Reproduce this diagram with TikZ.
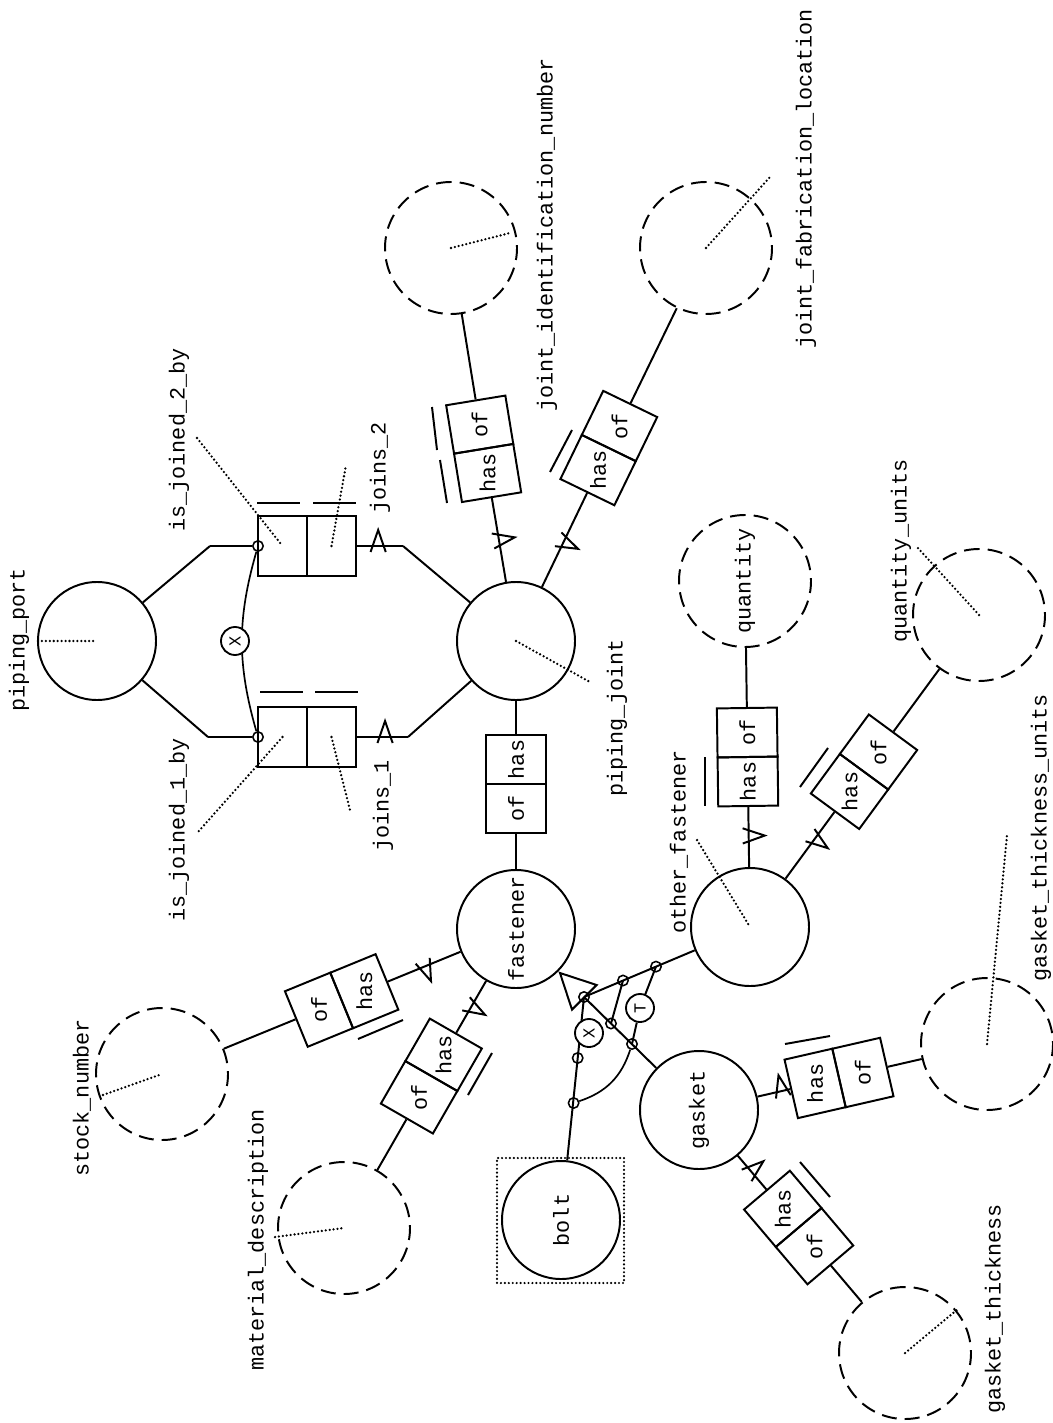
\documentclass[tikz,border=0pt]{standalone}
\usepackage{fontspec}
\newfontfamily\niamfont{Liberation Mono}
\newcommand{\niamtext}{\niamfont\fontsize{15.5}{18}\selectfont}
\newcommand{\niamsmall}{\niamfont\fontsize{12}{13}\selectfont}
\usetikzlibrary{arrows.meta,decorations.markings}
\pgfdeclarelayer{edgelayer}
\pgfdeclarelayer{nodelayer}
\pgfsetlayers{edgelayer,nodelayer,main}
\tikzstyle{none}=[]
\tikzstyle{Entity}=[draw=black, shape=circle, minimum size=29.5mm, inner sep=0pt, rotate=90, font=\niamtext]
\tikzstyle{Value}=[draw=black, shape=circle, minimum size=33mm, inner sep=0pt, dash pattern=on 3.75mm off 2mm, rotate=90, font=\niamtext]
\tikzstyle{Role}=[draw=black, shape=rectangle, minimum width=12.25mm, minimum height=15mm, inner sep=0pt]
\tikzstyle{Role Text}=[inner sep=0pt, rotate=90, font=\niamtext]
\tikzstyle{Label}=[inner sep=0pt, rotate=90, font=\niamtext]
\tikzstyle{Joint}=[draw=black, shape=circle, minimum size=2.6mm, inner sep=0pt, line width=1.1pt]
\tikzstyle{Constraint}=[draw=black, fill=white, shape=circle, minimum size=7mm, inner sep=0pt, line width=1.3pt, rotate=90, font=\niamsmall]
\tikzstyle{Bolt Box}=[draw=black, shape=rectangle, minimum width=31.75mm, minimum height=31.25mm, inner sep=0pt, line width=1.7pt, dash pattern=on 0pt off 2.8pt, line cap=round]
\tikzstyle{Pointer}=[-, draw=black, line width=1.8pt, dash pattern=on 0pt off 2.8pt, line cap=round]
\tikzstyle{Bar}=[-, draw=black]
\tikzstyle{Thin}=[-, draw=black, line width=1.2pt]
\tikzstyle{Subtype}=[-{Triangle[open, length=9.4mm, width=9.4mm]}, draw=black]
\tikzset{wedge left/.style={postaction={decorate, decoration={markings, mark=at position #1 with {\draw [solid] (-1.9mm,-1.5mm) -- (0,4mm) -- (1.9mm,-1.5mm);}}}}}
\tikzset{wedge right/.style={postaction={decorate, decoration={markings, mark=at position #1 with {\draw [solid] (-1.9mm,1.5mm) -- (0,-4mm) -- (1.9mm,1.5mm);}}}}}
\begin{document}
\begin{tikzpicture}[x=0.25mm, y=-0.25mm, every path/.style={line width=1.4pt}]
	\useasboundingbox (0,0) rectangle (1053,1423);
	\begin{pgfonlayer}{nodelayer}
		\node [style=Entity] (0) at (97, 641) {};
		\node [style=Entity] (1) at (516, 641) {};
		\node [style=Entity] (2) at (516, 929) {fastener};
		\node [style=Entity] (3) at (750, 927) {};
		\node [style=Entity] (4) at (699, 1110) {gasket};
		\node [style=Entity] (5) at (561, 1220) {bolt};
		\node [style=Value] (6) at (451, 248) {};
		\node [style=Value] (7) at (706, 248) {};
		\node [style=Value] (8) at (745, 581) {quantity};
		\node [style=Value] (9) at (979, 615) {};
		\node [style=Value] (10) at (987, 1044) {};
		\node [style=Value] (11) at (905, 1353) {};
		\node [style=Value] (12) at (162, 1074) {};
		\node [style=Value] (13) at (344, 1228) {};
		\node [style=Role, rotate=90] (14) at (516, 759.5) {};
		\node [style=Role, rotate=90] (15) at (516, 808.5) {};
		\node [style=Role, rotate=99.3] (16) at (487.6, 473) {};
		\node [style=Role, rotate=99.3] (17) at (479.7, 424.6) {};
		\node [style=Role, rotate=64.1] (18) at (598.1, 470.1) {};
		\node [style=Role, rotate=64.1] (19) at (619.5, 426) {};
		\node [style=Role, rotate=90.8] (20) at (747.9, 781.5) {};
		\node [style=Role, rotate=90.8] (21) at (747.2, 732.5) {};
		\node [style=Role, rotate=53.7] (22) at (849.5, 791.5) {};
		\node [style=Role, rotate=53.7] (23) at (878.5, 752) {};
		\node [style=Role, rotate=22.3] (24) at (364.3, 991.2) {};
		\node [style=Role, rotate=22.3] (25) at (319, 1009.7) {};
		\node [style=Role, rotate=60.1] (26) at (443.6, 1054.8) {};
		\node [style=Role, rotate=60.1] (27) at (419.1, 1097.3) {};
		\node [style=Role, rotate=12.9] (28) at (815.1, 1083.4) {};
		\node [style=Role, rotate=12.9] (29) at (862.9, 1072.5) {};
		\node [style=Role, rotate=-49.7] (30) at (782.8, 1208.8) {};
		\node [style=Role, rotate=-49.7] (31) at (814.5, 1246.2) {};
		\node [style=Role] (32) at (282.5, 546) {};
		\node [style=Role] (33) at (331.5, 546) {};
		\node [style=Role] (34) at (282.5, 737) {};
		\node [style=Role] (35) at (331.5, 737) {};
		\node [style=Joint] (36) at (258, 546) {};
		\node [style=Joint] (37) at (258, 737) {};
		\node [style=Joint] (38) at (584, 997) {};
		\node [style=Joint] (39) at (623, 980.5) {};
		\node [style=Joint] (40) at (656, 966.6) {};
		\node [style=Joint] (41) at (611, 1023.5) {};
		\node [style=Joint] (42) at (632, 1044) {};
		\node [style=Joint] (43) at (577.7, 1058) {};
		\node [style=Joint] (44) at (573.6, 1103) {};
		\node [style=Constraint] (45) at (235, 641) {X};
		\node [style=Constraint] (46) at (589, 1033) {X};
		\node [style=Constraint] (47) at (640, 1008) {T};
		\node [style=none] (48) at (210, 546) {};
		\node [style=none] (49) at (403, 546) {};
		\node [style=none] (50) at (208, 737) {};
		\node [style=none] (51) at (408, 737) {};
		\node [style=Label] (52) at (19, 640) {piping\_port};
		\node [style=Label] (53) at (179, 440) {is\_joined\_2\_by};
		\node [style=Label] (54) at (179, 830) {is\_joined\_1\_by};
		\node [style=Label] (55) at (380, 468) {joins\_2};
		\node [style=Label] (56) at (383, 806) {joins\_1};
		\node [style=Label] (57) at (617, 718) {piping\_joint};
		\node [style=Label] (58) at (679, 842) {other\_fastener};
		\node [style=Label] (59) at (901, 551) {quantity\_units};
		\node [style=Label] (60) at (1041, 838) {gasket\_thickness\_units};
		\node [style=Label] (61) at (995, 1309) {gasket\_thickness};
		\node [style=Label] (62) at (258, 1240) {material\_description};
		\node [style=Label] (63) at (82, 1098) {stock\_number};
		\node [style=Label] (64) at (547, 235) {joint\_identification\_number};
		\node [style=Label] (65) at (806, 179) {joint\_fabrication\_location};
		\node [style=none] (66) at (38, 641) {};
		\node [style=none] (67) at (590, 682) {};
		\node [style=none] (68) at (197, 438) {};
		\node [style=none] (70) at (346, 465) {};
		\node [style=none] (71) at (198, 832) {};
		\node [style=none] (72) at (350, 810) {};
		\node [style=none] (73) at (697, 840) {};
		\node [style=none] (74) at (510, 233) {};
		\node [style=none] (75) at (770, 177) {};
		\node [style=none] (76) at (917, 547) {};
		\node [style=none] (77) at (1007, 835) {};
		\node [style=none] (78) at (958, 1309) {};
		\node [style=none] (79) at (103, 1095) {};
		\node [style=none] (80) at (275, 1237) {};
		\node [style=none] (81) at (257, 503) {};
		\node [style=none] (82) at (300, 503) {};
		\node [style=none] (83) at (313, 503) {};
		\node [style=none] (84) at (356, 503) {};
		\node [style=none] (85) at (260, 692) {};
		\node [style=none] (86) at (303, 692) {};
		\node [style=none] (87) at (315, 692) {};
		\node [style=none] (88) at (358, 692) {};
		\node [style=none] (89) at (432, 407) {};
		\node [style=none] (90) at (437, 450) {};
		\node [style=none] (91) at (440, 460) {};
		\node [style=none] (92) at (447, 503) {};
		\node [style=none] (93) at (550, 472) {};
		\node [style=none] (94) at (572, 430) {};
		\node [style=none] (95) at (705, 757) {};
		\node [style=none] (96) at (705, 806) {};
		\node [style=none] (97) at (800, 787) {};
		\node [style=none] (98) at (828, 748) {};
		\node [style=none] (99) at (358, 1039) {};
		\node [style=none] (100) at (403, 1020) {};
		\node [style=none] (101) at (468, 1095) {};
		\node [style=none] (102) at (492, 1053) {};
		\node [style=none] (103) at (785, 1044) {};
		\node [style=none] (104) at (830, 1036) {};
		\node [style=none] (105) at (800, 1162) {};
		\node [style=none] (106) at (830, 1197) {};
		\node [style=Bolt Box] (107) at (560.5, 1220.5) {};
		\node [style=Role Text] (110) at (516, 759.5) {has};
		\node [style=Role Text] (111) at (516, 808.5) {of};
		\node [style=Role Text] (112) at (487.6, 473) {has};
		\node [style=Role Text] (113) at (479.7, 424.6) {of};
		\node [style=Role Text] (114) at (598.1, 470.1) {has};
		\node [style=Role Text] (115) at (619.5, 426) {of};
		\node [style=Role Text] (116) at (747.9, 781.5) {has};
		\node [style=Role Text] (117) at (747.2, 732.5) {of};
		\node [style=Role Text] (118) at (849.5, 791.5) {has};
		\node [style=Role Text] (119) at (878.5, 752) {of};
		\node [style=Role Text] (120) at (364.3, 991.2) {has};
		\node [style=Role Text] (121) at (319, 1009.7) {of};
		\node [style=Role Text] (122) at (443.6, 1054.8) {has};
		\node [style=Role Text] (123) at (419.1, 1097.3) {of};
		\node [style=Role Text] (124) at (815.1, 1083.4) {has};
		\node [style=Role Text] (125) at (862.9, 1072.5) {of};
		\node [style=Role Text] (126) at (782.8, 1208.8) {has};
		\node [style=Role Text] (127) at (814.5, 1246.2) {of};
	\end{pgfonlayer}
	\begin{pgfonlayer}{edgelayer}
		\draw (0) to (48.center);
		\draw (48.center) to (36);
		\draw (0) to (50.center);
		\draw (50.center) to (37);
		\draw [wedge left=0.46] (33) to (49.center);
		\draw (49.center) to (1);
		\draw [wedge left=0.55] (35) to (51.center);
		\draw (51.center) to (1);
		\draw [style=Thin, bend right=16] (36) to (37);
		\draw (1) to (14);
		\draw (15) to (2);
		\draw [wedge right=0.5] (1) to (16);
		\draw (17) to (6);
		\draw [wedge right=0.48] (1) to (18);
		\draw (19) to (7);
		\draw [wedge right=0.52] (3) to (20);
		\draw (21) to (8);
		\draw [wedge right=0.6] (3) to (22);
		\draw (23) to (9);
		\draw [wedge left=0.49] (2) to (24);
		\draw (25) to (12);
		\draw [wedge left=0.5] (2) to (26);
		\draw (27) to (13);
		\draw [wedge left=0.75] (4) to (28);
		\draw (29) to (10);
		\draw [wedge left=0.47] (4) to (30);
		\draw (31) to (11);
		\draw (3) to (38.center);
		\draw (4) to (38.center);
		\draw (5) to (38.center);
		\draw [style=Subtype] (38.center) to (2);
		\draw (39.center) to (41.center);
		\draw (40.center) to (47);
		\draw (47) to (42.center);
		\draw [style=Thin, bend right=27] (44) to (42);
		\draw [style=Pointer] (66.center) to (0.center);
		\draw [style=Pointer] (1.center) to (67.center);
		\draw [style=Pointer] (68.center) to (32.center);
		\draw [style=Pointer] (33.center) to (70.center);
		\draw [style=Pointer] (34.center) to (71.center);
		\draw [style=Pointer] (35.center) to (72.center);
		\draw [style=Pointer] (73.center) to (3.center);
		\draw [style=Pointer] (6.center) to (74.center);
		\draw [style=Pointer] (7.center) to (75.center);
		\draw [style=Pointer] (9.center) to (76.center);
		\draw [style=Pointer] (10.center) to (77.center);
		\draw [style=Pointer] (11.center) to (78.center);
		\draw [style=Pointer] (79.center) to (12.center);
		\draw [style=Pointer] (80.center) to (13.center);
		\draw [style=Bar] (81.center) to (82.center);
		\draw [style=Bar] (83.center) to (84.center);
		\draw [style=Bar] (85.center) to (86.center);
		\draw [style=Bar] (87.center) to (88.center);
		\draw [style=Bar] (89.center) to (90.center);
		\draw [style=Bar] (91.center) to (92.center);
		\draw [style=Bar] (93.center) to (94.center);
		\draw [style=Bar] (95.center) to (96.center);
		\draw [style=Bar] (97.center) to (98.center);
		\draw [style=Bar] (99.center) to (100.center);
		\draw [style=Bar] (101.center) to (102.center);
		\draw [style=Bar] (103.center) to (104.center);
		\draw [style=Bar] (105.center) to (106.center);
	\end{pgfonlayer}
\end{tikzpicture}
\end{document}
